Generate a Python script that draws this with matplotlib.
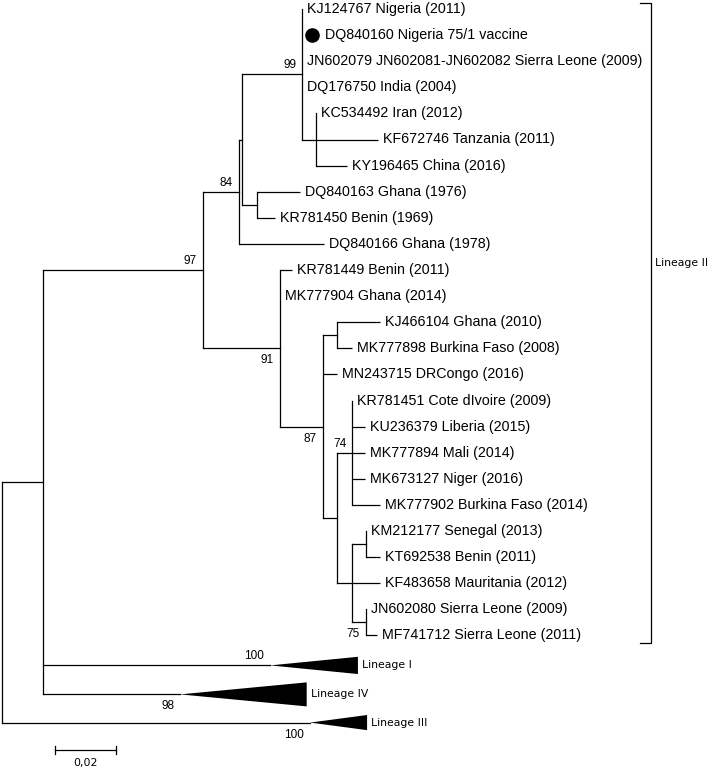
import matplotlib
matplotlib.use("Agg")
import matplotlib.pyplot as plt
from matplotlib.patches import Polygon

# tip labels, top to bottom (row index = position in list)
leaf_names = [
    "KJ124767 Nigeria (2011)",
    "DQ840160 Nigeria 75/1 vaccine",
    "JN602079 JN602081-JN602082 Sierra Leone (2009)",
    "DQ176750 India (2004)",
    "KC534492 Iran (2012)",
    "KF672746 Tanzania (2011)",
    "KY196465 China (2016)",
    "DQ840163 Ghana (1976)",
    "KR781450 Benin (1969)",
    "DQ840166 Ghana (1978)",
    "KR781449 Benin (2011)",
    "MK777904 Ghana (2014)",
    "KJ466104 Ghana (2010)",
    "MK777898 Burkina Faso (2008)",
    "MN243715 DRCongo (2016)",
    "KR781451 Cote dIvoire (2009)",
    "KU236379 Liberia (2015)",
    "MK777894 Mali (2014)",
    "MK673127 Niger (2016)",
    "MK777902 Burkina Faso (2014)",
    "KM212177 Senegal (2013)",
    "KT692538 Benin (2011)",
    "KF483658 Mauritania (2012)",
    "JN602080 Sierra Leone (2009)",
    "MF741712 Sierra Leone (2011)",
]
# distance from root (substitutions/site) of each tip
leaf_depths = [0.0984, 0.0984, 0.0984, 0.0984, 0.1030, 0.1233, 0.1131,
               0.0977, 0.0895, 0.1056, 0.0951, 0.0911, 0.1239, 0.1148,
               0.1098, 0.1148, 0.1190, 0.1190, 0.1190, 0.1239, 0.1193,
               0.1239, 0.1239, 0.1193, 0.1230]
vaccine_leaf = 1

# collapsed lineages: name, branch end, tip depth, half height (rows), row, bootstrap
clade_names = ["Lineage I", "Lineage IV", "Lineage III"]
clade_start = [0.0879, 0.0584, 0.1010]
clade_tip = [0.1167, 0.0999, 0.1197]
clade_half = [0.33, 0.46, 0.29]
clade_rows = [25.15, 26.26, 27.34]
clade_support = [100, 98, 100]
clade_side = ["above", "below", "below"]

# internal nodes: (depth, bootstrap, children); ints are tip rows, str are clades
tree = (0.0, None, [
    (0.0134, None, [
        (0.0659, 97, [
            (0.0777, 84, [
                (0.0787, None, [
                    (0.0984, 99, [0, 1, 2, 3, (0.1030, None, [4, 5, 6])]),
                    (0.0836, None, [7, 8]),
                ]),
                9,
            ]),
            (0.0911, 91, [10, 11,
                (0.1052, 87, [
                    (0.1098, None, [12, 13]),
                    14,
                    (0.1098, None, [
                        (0.1148, 74, [15, 16, 17, 18, 19]),
                        (0.1148, None, [
                            (0.1193, None, [20, 21]),
                            22,
                            (0.1193, 75, [23, 24]),
                        ]),
                    ]),
                ]),
            ]),
        ]),
        "Lineage I", "Lineage IV",
    ]),
    "Lineage III",
])
support_side = {97: "above", 84: "above", 99: "above", 91: "below",
                87: "below", 74: "above", 75: "below"}

scale_len = 0.02
scale_label = "0,02"
bracket_label = "Lineage II"

LW = 0.9
fig = plt.figure(figsize=(7.09, 7.69), dpi=100)
ax = fig.add_axes([0, 0, 1, 1])
ax.set_xlim(-2 / 3050, 707 / 3050)
ax.set_ylim((769 - 9) / 26.1, -9 / 26.1)
ax.axis("off")

leaf_font = dict(family="Liberation Sans", fontsize=10.3)
boot_font = dict(family="Liberation Sans", fontsize=8.5)


def support_text(x, y, val, side):
    dy = 6.5 if side == "above" else -8.6
    ax.annotate(str(val), (x, y), xytext=(-4.3, dy), textcoords="offset points",
                ha="right", va="center", **boot_font)


def draw(node, parent_x):
    if isinstance(node, int):
        y = node
        x = leaf_depths[node]
        ax.plot([parent_x, x], [y, y], color="black", lw=LW, solid_capstyle="butt")
        off = 3.6
        if node == vaccine_leaf:
            ax.plot(x + 10 / 3050, y, "o", color="black", ms=9.5)
            off = 16.5
        ax.annotate(leaf_names[node], (x, y), xytext=(off, 0), textcoords="offset points",
                    ha="left", va="center", **leaf_font)
        return y
    if isinstance(node, str):
        i = clade_names.index(node)
        y = clade_rows[i]
        ax.plot([parent_x, clade_start[i]], [y, y], color="black", lw=LW)
        ax.add_patch(Polygon([(clade_start[i], y), (clade_tip[i], y - clade_half[i]),
                              (clade_tip[i], y + clade_half[i])],
                             closed=True, color="black", lw=0))
        ax.annotate(node, (clade_tip[i], y), xytext=(3, 0), textcoords="offset points",
                    ha="left", va="center", family="DejaVu Sans", fontsize=7.8)
        support_text(clade_start[i], y, clade_support[i], clade_side[i])
        return y
    x, sup, children = node
    ys = [draw(c, x) for c in children]
    y = (ys[0] + ys[-1]) / 2
    ax.plot([x, x], [ys[0], ys[-1]], color="black", lw=LW)
    if parent_x is not None:
        ax.plot([parent_x, x], [y, y], color="black", lw=LW)
    if sup is not None:
        support_text(x, y, sup, support_side[sup])
    return y


draw(tree, None)

# scale bar
sx0 = 53 / 3050
sy = (750 - 9) / 26.1
ax.plot([sx0, sx0 + scale_len], [sy, sy], color="black", lw=LW)
for sx in (sx0, sx0 + scale_len):
    ax.plot([sx, sx], [sy - 0.15, sy + 0.15], color="black", lw=LW)
ax.text(sx0 + scale_len / 2, sy + 0.5, scale_label, ha="center", va="center",
        family="DejaVu Sans", fontsize=7.8)

# bracket for lineage II
bx = 649 / 3050
btop, bbot = -0.23, 24.3
ax.plot([bx - 11 / 3050, bx, bx, bx - 11 / 3050], [btop, btop, bbot, bbot],
        color="black", lw=LW)
ax.text(bx + 4 / 3050, (263 - 9) / 26.1, bracket_label, ha="left", va="center",
        family="DejaVu Sans", fontsize=7.8)

fig.savefig("out.png", dpi=100)
